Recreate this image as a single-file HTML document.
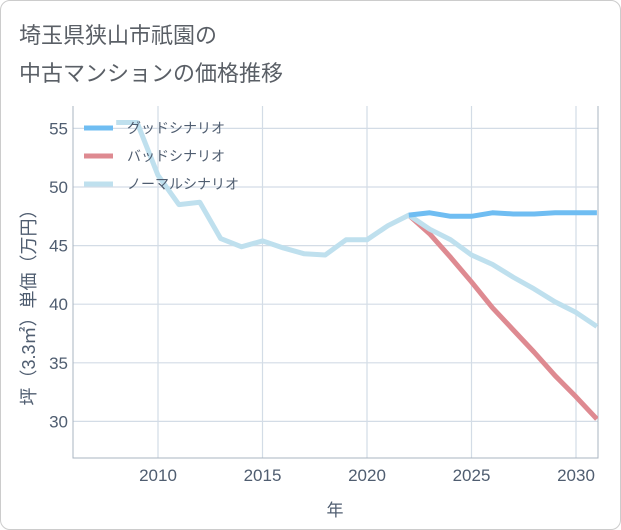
<!DOCTYPE html>
<html><head><meta charset="utf-8">
<style>
body{margin:0;background:#fff;}
#card{position:absolute;left:0;top:0;width:619px;height:528px;border:1px solid #ccc;border-radius:10px;background:#fff;overflow:hidden;}
.t{position:absolute;left:18px;font:22px "Liberation Sans","Noto Sans CJK JP",sans-serif;color:#5a5f66;}
svg text{font-family:"Liberation Sans","Noto Sans CJK JP",sans-serif;}
</style></head><body>
<div id="card">
<div class="t" style="top:17px">埼玉県狭山市祇園の</div>
<div class="t" style="top:55px">中古マンションの価格推移</div>
<svg id="chart" width="621" height="530" style="position:absolute;left:0;top:0"></svg>
</div>
<script>
const normalYears=[2008,2009,2010,2011,2012,2013,2014,2015,2016,2017,2018,2019,2020,2021,2022,2023,2024,2025,2026,2027,2028,2029,2030,2031];
const normalVals=[55.5,55.5,51,48.5,48.7,45.6,44.9,45.4,44.8,44.3,44.2,45.5,45.5,46.7,47.6,46.4,45.5,44.2,43.4,42.3,41.3,40.2,39.3,38.1];
const goodYears=[2022,2023,2024,2025,2026,2027,2028,2029,2030,2031];
const goodVals=[47.6,47.8,47.5,47.5,47.8,47.7,47.7,47.8,47.8,47.8];
const badYears=[2022,2023,2024,2025,2026,2027,2028,2029,2030,2031];
const badVals=[47.6,46.0,44.0,41.9,39.7,37.8,35.9,33.9,32.1,30.2];
const xTicks=[2010,2015,2020,2025,2030];
const yTicks=[30,35,40,45,50,55];
const legendLabels=["グッドシナリオ","バッドシナリオ","ノーマルシナリオ"];

const L=72,R=597,T=105,B=457;
const x=v=>157+(v-2010)*20.9;
const y=v=>186-(v-50)*11.72;
const svg=document.getElementById('chart');
const NS='http://www.w3.org/2000/svg';
const TXT='#4f5d70';
function mk(tag,attrs,parent){const e=document.createElementNS(NS,tag);for(const k in attrs)e.setAttribute(k,attrs[k]);(parent||svg).appendChild(e);return e;}
const clip=mk('clipPath',{id:'pc'});mk('rect',{x:L,y:T,width:R-L,height:B-T},clip);
xTicks.forEach(t=>{
  const g=mk('line',{x1:x(t),x2:x(t),y1:T,y2:B,stroke:'#d3dce6','stroke-width':1.2});
  
  const lb=mk('text',{x:x(t),y:480,'text-anchor':'middle','font-size':17,fill:TXT});lb.textContent=t;
  
});
yTicks.forEach(t=>{
  const g=mk('line',{x1:L,x2:R,y1:y(t),y2:y(t),stroke:'#d3dce6','stroke-width':1.2});
  
  const lb=mk('text',{x:67,y:y(t)+6,'text-anchor':'end','font-size':17,fill:TXT});lb.textContent=t;
  
});
const ax=mk('path',{d:`M${L},${T}V${B}H${R}V${T}`,fill:'none',stroke:'#aab4c0','stroke-width':1});

function series(xs,vs,color,name){
  const p=mk('polyline',{points:xs.map((v,i)=>x(v)+','+y(vs[i])).join(' '),fill:'none',stroke:color,'stroke-width':5,'stroke-linejoin':'round','clip-path':'url(#pc)'});
  
}
series(badYears,badVals,'#de8a91','bad-scenario-line');
series(normalYears,normalVals,'#bfe0ee','normal-scenario-line');
series(goodYears,goodVals,'#6fbdf2','good-scenario-line');
const colors=['#6fbdf2','#de8a91','#bfe0ee'];
legendLabels.forEach((s,i)=>{
  const yy=127+i*28;
  const l=mk('line',{x1:83,x2:112,y1:yy,y2:yy,stroke:colors[i],'stroke-width':5});
  
  const tx=mk('text',{x:126,y:yy+5,'font-size':14,fill:TXT});tx.textContent=s;
  
});
const xt=mk('text',{x:334,y:515,'text-anchor':'middle','font-size':17,fill:TXT});xt.textContent='年';

const yt=mk('text',{x:0,y:0,'text-anchor':'middle','font-size':18,fill:TXT,transform:'translate(34,302) rotate(-90)'});yt.textContent='坪（3.3㎡）単価（万円）';

</script>
</body></html>
